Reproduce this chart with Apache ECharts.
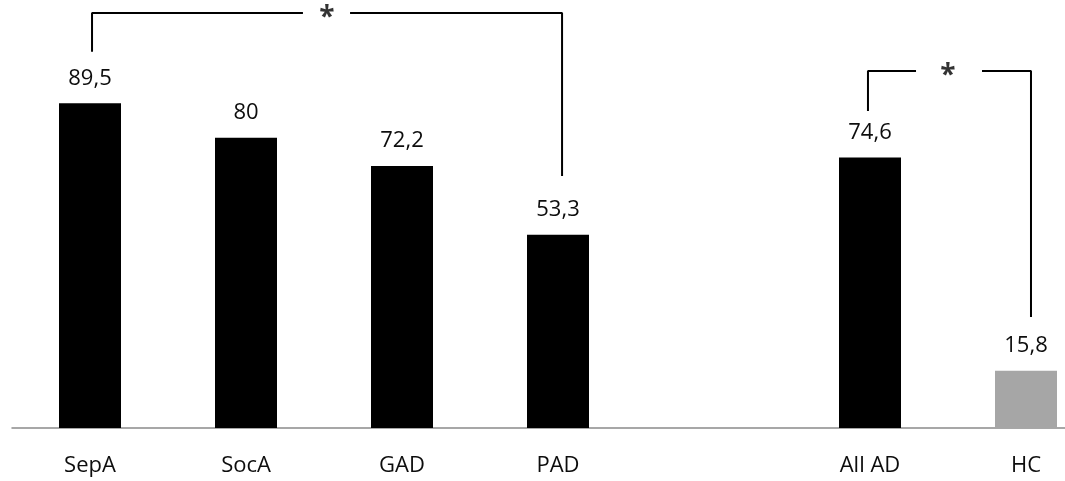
<!DOCTYPE html>
<html>
<head>
<meta charset="utf-8">
<script src="https://cdn.jsdelivr.net/npm/echarts@6/dist/echarts.min.js"></script>
<style>
html,body{margin:0;padding:0;background:#fff;}
#c{width:1065px;height:481px;}
</style>
</head>
<body>
<div id="c"></div>
<script>
// Data
const categories = ['SepA', 'SocA', 'GAD', 'PAD', '', 'All AD', 'HC'];
const values = [89.5, 80, 72.2, 53.3, null, 74.6, 15.8];
const barColors = ['#000000', '#000000', '#000000', '#000000', '#000000', '#000000', '#a6a6a6'];
// Significance brackets (x in category index units, y in value units)
const bracket1Left = [[0.013, 103.7], [0.013, 114.4], [1.365, 114.4]];
const bracket1Right = [[1.667, 114.4], [3.026, 114.4], [3.026, 69.5]];
const bracket2Left = [[4.987, 87.4], [4.987, 98.4], [5.295, 98.4]];
const bracket2Right = [[5.718, 98.4], [6.032, 98.4], [6.032, 30.6]];
const asterisks = [[1.519, 114.4], [5.5, 98.4]];

const FONT = '"Open Sans", "Noto Sans", sans-serif';
const chart = echarts.init(document.getElementById('c'));

function bracketSeries(data) {
  return {
    type: 'line', xAxisIndex: 1, data: data, symbol: 'none', silent: true,
    lineStyle: { color: '#000', width: 2 }, z: 5, animation: false
  };
}

chart.setOption({
  animation: false,
  backgroundColor: '#fff',
  grid: { left: 12, width: 1092, top: 0, bottom: 53, containLabel: false, outerBoundsMode: 'none' },
  xAxis: [
    {
      type: 'category', data: categories,
      axisLine: { lineStyle: { color: '#8a8a8a', width: 1.5 } },
      axisTick: { show: false },
      axisLabel: { color: '#0d0d0d', fontSize: 22, fontFamily: FONT, margin: 27 }
    },
    { type: 'value', min: -0.5, max: 6.5, show: false }
  ],
  yAxis: { type: 'value', min: 0, max: 118, show: false, splitLine: { show: false } },
  series: [
    {
      type: 'bar', xAxisIndex: 0, barWidth: 62,
      data: values.map((v, i) => ({ value: v, itemStyle: { color: barColors[i] } })),
      label: {
        show: true, position: 'top', distance: 14, color: '#0d0d0d',
        fontSize: 22, fontFamily: FONT,
        formatter: p => p.value == null ? '' : String(p.value).replace('.', ',')
      }
    },
    bracketSeries(bracket1Left),
    bracketSeries(bracket1Right),
    bracketSeries(bracket2Left),
    bracketSeries(bracket2Right),
    {
      type: 'scatter', xAxisIndex: 1, data: asterisks, symbolSize: 0, silent: true,
      label: { show: true, position: 'inside', formatter: '*', color: '#000', fontSize: 28, fontWeight: 'bold', fontFamily: FONT, offset: [0, 5] }
    }
  ]
});
</script>
</body>
</html>
